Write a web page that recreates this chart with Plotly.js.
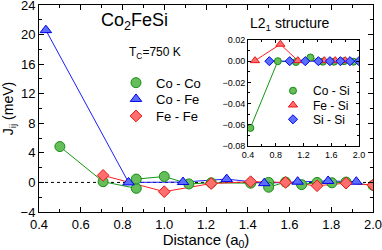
<!DOCTYPE html>
<html><head><meta charset="utf-8">
<script src="https://cdn.plot.ly/plotly-3.0.1.min.js"></script>
<style>html,body{margin:0;padding:0;background:#fff}#c{width:382px;height:250px}</style>
</head><body><div id="c"></div>
<script>
// Main panel: exchange constants J_ij (meV) vs distance (a0)
const coCoDist = [0.5, 0.707, 0.866, 0.866, 1.0, 1.118, 1.225, 1.414, 1.5, 1.5, 1.581, 1.658, 1.732, 1.803, 1.871, 2.0];
const coCoJ    = [4.85, 0.1, -0.8, 0.45, 0.8, -0.2, -0.05, -0.1, 0.0, -0.65, 0.05, -0.3, 0.0, -0.05, 0.05, -0.4];
const coFeDist = [0.433, 0.829, 1.090, 1.299, 1.479, 1.639, 1.785, 1.920];
const coFeJ    = [20.6, 0.0, 0.05, 0.45, -0.1, 0.1, 0.2, 0.1];
const feFeDist = [0.707, 1.0, 1.225, 1.414, 1.581, 1.732, 1.871, 2.0];
const feFeJ    = [0.95, -1.25, -0.15, 0.1, 0.0, -0.45, -0.1, -0.35];
// Inset panel
const coSiDist = [0.433, 0.829, 1.090, 1.299, 1.479, 1.639, 1.785, 1.920];
const coSiJ    = [-0.063, 0.0, -0.0008, 0.0035, -0.0005, -0.0005, 0.0, -0.0005];
const feSiDist = [0.5, 0.866, 1.118, 1.5, 1.658, 1.803];
const feSiJ    = [0.0005, 0.016, 0.0005, 0.0005, 0.0005, 0.0005];
const siSiDist = [0.707, 1.0, 1.225, 1.414, 1.581, 1.732, 1.871, 2.0];
const siSiJ    = [0, 0, 0, 0, 0, 0, 0, 0];
// Labels
const mainNames  = ['Co - Co', 'Co - Fe', 'Fe - Fe'];
const insetNames = ['Co - Si', 'Fe - Si', 'Si - Si'];

const FONT = 'Liberation Sans, Arial, Helvetica, sans-serif';
const G = {fill:'rgb(102,190,90)', edge:'rgb(20,140,20)', line:'rgb(20,150,20)'};
const B = {fill:'rgb(90,110,255)', edge:'rgb(0,0,230)', line:'rgb(30,30,255)'};
const R = {fill:'rgb(255,110,110)', edge:'rgb(235,20,20)', line:'rgb(255,30,30)'};

function lineTrace(x, y, c, xa, ya){
  return {x:x, y:y, xaxis:xa, yaxis:ya, mode:'lines', line:{color:c.line, width:1}, showlegend:false, hoverinfo:'skip'};
}
function markTrace(x, y, c, sym, size, name, xa, ya, leg){
  return {x:x, y:y, xaxis:xa, yaxis:ya, mode:'markers', name:name, legend:leg,
    marker:{symbol:sym, size:size, color:c.fill, line:{color:c.edge, width:1}}};
}

const data = [
  lineTrace(coCoDist, coCoJ, G, 'x', 'y'),
  lineTrace(coFeDist, coFeJ, B, 'x', 'y'),
  lineTrace(feFeDist, feFeJ, R, 'x', 'y'),
  markTrace(coCoDist, coCoJ, G, 'circle', 10, mainNames[0], 'x', 'y', 'legend'),
  markTrace(coFeDist, coFeJ, B, 'triangle-up', 10, mainNames[1], 'x', 'y', 'legend2'),
  markTrace(feFeDist, feFeJ, R, 'diamond', 9, mainNames[2], 'x', 'y', 'legend3'),
  lineTrace(coSiDist, coSiJ, G, 'x2', 'y2'),
  lineTrace(feSiDist, feSiJ, R, 'x2', 'y2'),
  lineTrace(siSiDist, siSiJ, B, 'x2', 'y2'),
  markTrace(coSiDist, coSiJ, G, 'circle', 7, insetNames[0], 'x2', 'y2', 'legend4'),
  markTrace(feSiDist, feSiJ, R, 'triangle-up', 8, insetNames[1], 'x2', 'y2', 'legend5'),
  markTrace(siSiDist, siSiJ, B, 'diamond', 7, insetNames[2], 'x2', 'y2', 'legend6')
];

function leg(x, y, size){
  return {x:x, y:y, xanchor:'left', yanchor:'middle', bgcolor:'rgba(0,0,0,0)', borderwidth:0,
    font:{family:FONT, size:size, color:'#000'}};
}

const axBase = {showline:true, linecolor:'#000', linewidth:1, mirror:'ticks', ticks:'inside',
  tickcolor:'#000', showgrid:false, zeroline:false, ticklabeloverflow:'allow'};

const layout = {
  width:382, height:250,
  margin:{l:39, r:9, t:5, b:38},
  paper_bgcolor:'#fff', plot_bgcolor:'#fff',
  font:{family:FONT, color:'#000'},
  xaxis:Object.assign({}, axBase, {range:[0.4, 2.0], dtick:0.2, tick0:0.4, tickformat:'.1f', ticklen:5,
    tickfont:{size:13}, minor:{ticks:'inside', dtick:0.1, ticklen:3, tickcolor:'#000'},
    title:{text:'Distance (a<sub>0</sub>)', font:{size:15}, standoff:0}}),
  yaxis:Object.assign({}, axBase, {range:[-4, 24], dtick:4, ticklen:5, tickfont:{size:13},
    minor:{ticks:'inside', dtick:2, ticklen:3, tickcolor:'#000'},
    title:{text:'J<sub>ij</sub> (meV)', font:{size:14}, standoff:6}}),
  xaxis2:Object.assign({}, axBase, {domain:[0.626, 0.958], anchor:'y2', range:[0.4, 2.0], dtick:0.4,
    tickformat:'.1f', ticklen:3, tickfont:{size:9}, minor:{ticks:'inside', dtick:0.2, ticklen:2, tickcolor:'#000'}}),
  yaxis2:Object.assign({}, axBase, {domain:[0.319, 0.831], anchor:'x2', range:[-0.08, 0.02], dtick:0.02,
    tickformat:'.2f', ticklen:3, tickfont:{size:9}, minor:{ticks:'inside', dtick:0.01, ticklen:2, tickcolor:'#000'}}),
  legend:leg(0.2305, 0.6246, 13),
  legend2:leg(0.2305, 0.546, 13),
  legend3:leg(0.2305, 0.4638, 13),
  legend4:leg(0.7006, 0.586, 12),
  legend5:leg(0.7006, 0.5169, 12),
  legend6:leg(0.7006, 0.4478, 12),
  shapes:[
    {type:'line', xref:'x domain', yref:'y', x0:0, x1:1, y0:0, y1:0, layer:'below', line:{color:'#000', width:1, dash:'dot'}},
    {type:'line', xref:'x2 domain', yref:'y2', x0:0, x1:1, y0:0, y1:0, layer:'below', line:{color:'#999', width:1, dash:'dot'}}
  ],
  annotations:[
    {text:'Co<sub>2</sub>FeSi', xref:'paper', yref:'paper', x:0.2865, y:0.918, xanchor:'center', yanchor:'middle', showarrow:false, font:{size:18}},
    {text:'T<sub>C</sub>=750 K', xref:'paper', yref:'paper', x:0.347, y:0.768, xanchor:'center', yanchor:'middle', showarrow:false, font:{size:12}},
    {text:'L2<sub>1</sub> structure', xref:'paper', yref:'paper', x:0.7515, y:0.906, xanchor:'center', yanchor:'middle', showarrow:false, font:{size:14}}
  ]
};

Plotly.newPlot('c', data, layout, {staticPlot:true, displayModeBar:false});
</script></body></html>
